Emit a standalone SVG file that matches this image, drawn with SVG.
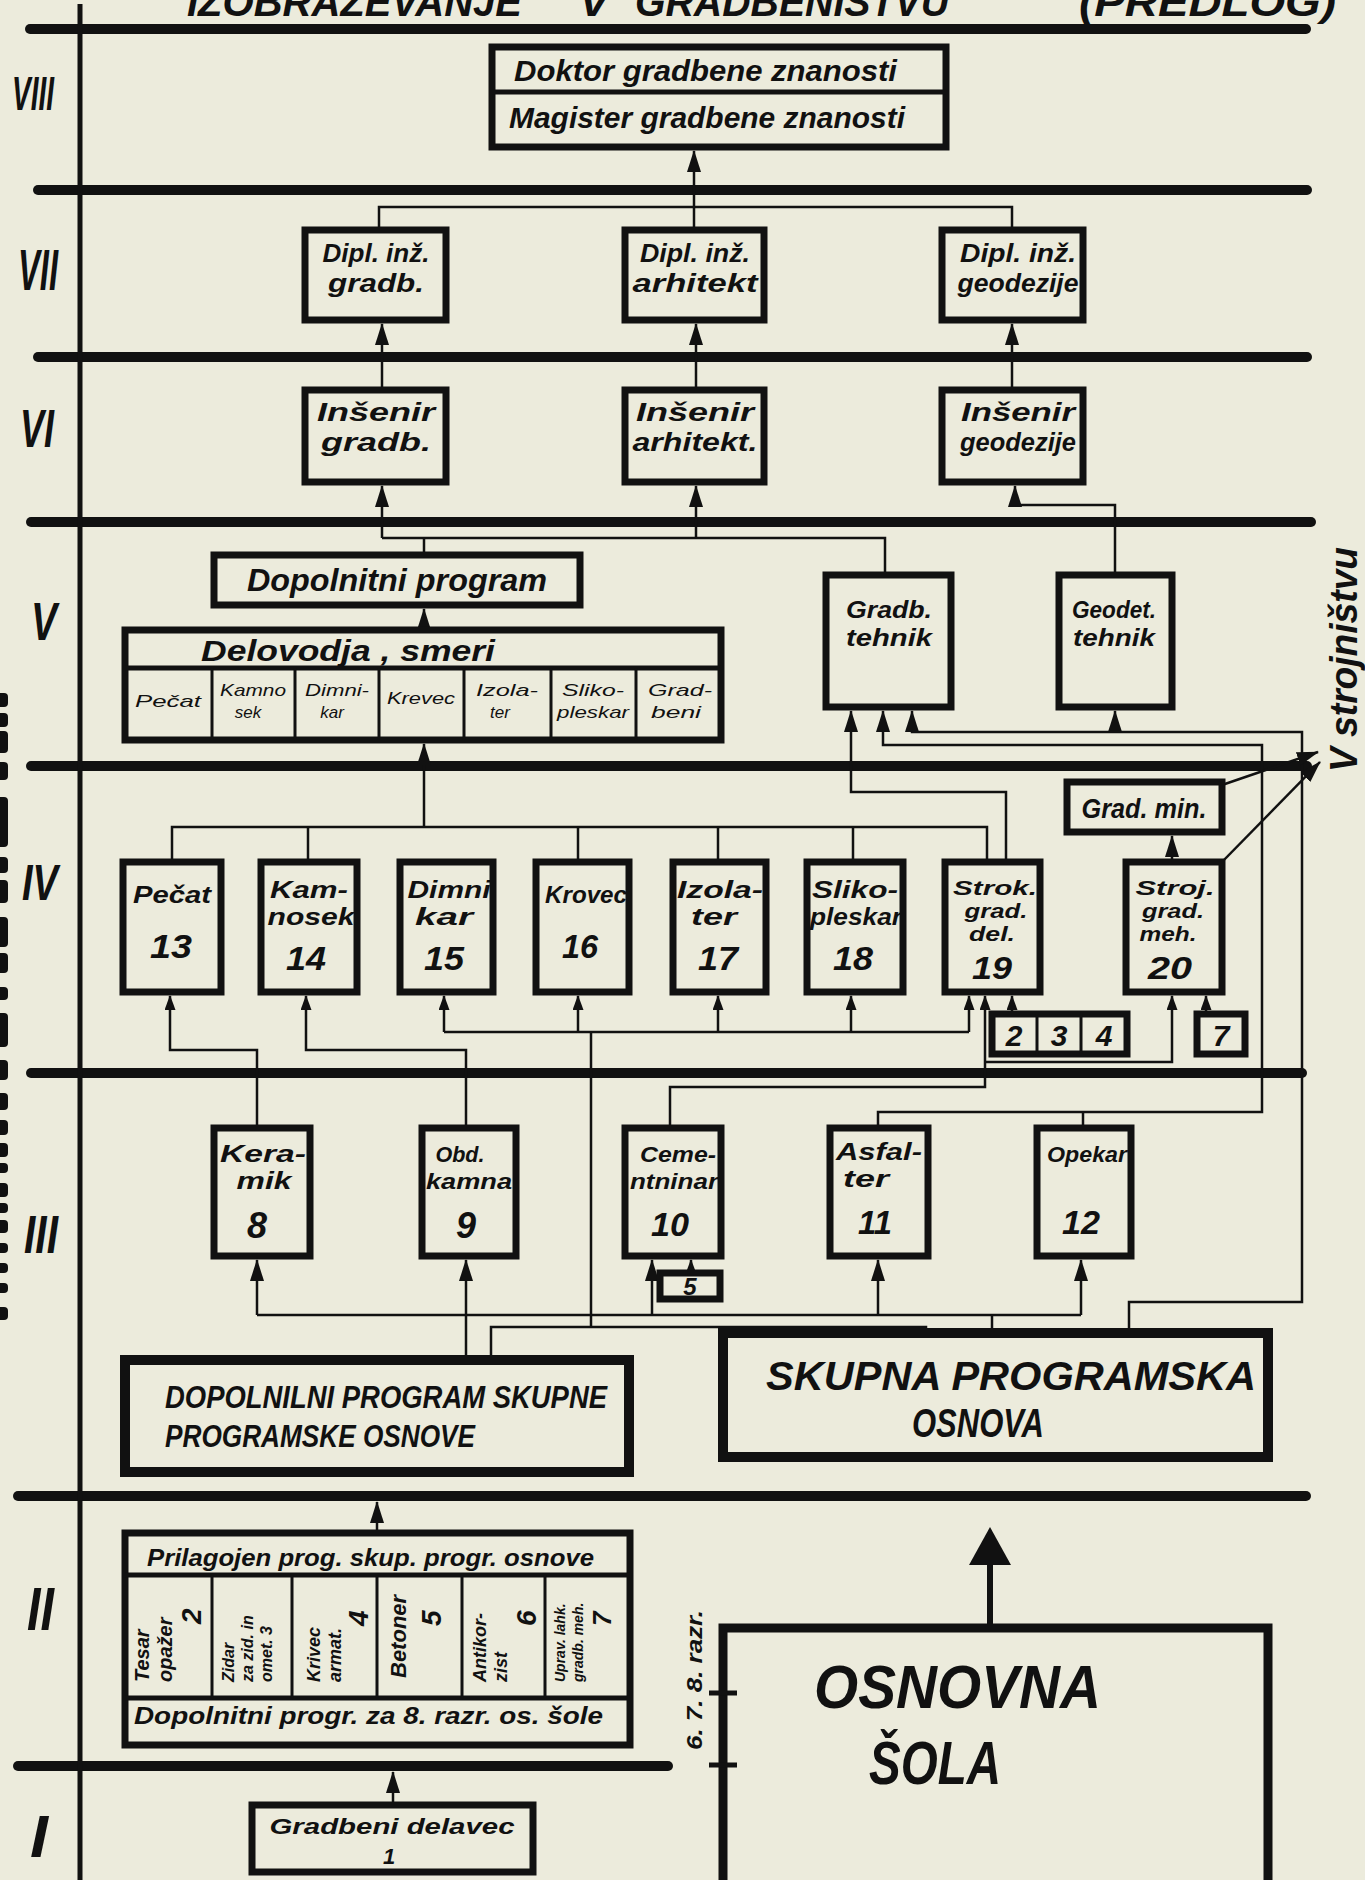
<svg xmlns="http://www.w3.org/2000/svg" width="1365" height="1880" viewBox="0 0 1365 1880">
<defs>
<style>
.bg{fill:#ECEBDC}
.lvl{stroke:#111;stroke-width:10;stroke-linecap:round;fill:none}
.axis{stroke:#111;stroke-width:5;fill:none}
.box{fill:none;stroke:#111;stroke-width:7}
.bx2{fill:none;stroke:#111;stroke-width:10}
.div{stroke:#111;stroke-width:5;fill:none}
.cdiv{stroke:#111;stroke-width:3;fill:none}
.c{fill:none;stroke:#111;stroke-width:2.5}
.ca{fill:none;stroke:#111;stroke-width:2.5;marker-end:url(#ah)}
.cs{fill:none;stroke:#111;stroke-width:2.5;marker-end:url(#as)}
.t{font-family:"Liberation Sans Narrow","Liberation Sans",Arial,sans-serif;font-weight:bold;font-style:italic;fill:#111}
.h{font-family:"Liberation Sans Narrow","Liberation Sans",Arial,sans-serif;font-style:italic;fill:#111}
.m{text-anchor:middle}
.edge{fill:#111}
</style>
<marker id="ah" viewBox="0 0 22 14" refX="21" refY="7" markerWidth="22" markerHeight="14" markerUnits="userSpaceOnUse" orient="auto"><path d="M0,0 L22,7 L0,14 Z" fill="#111"/></marker>
<marker id="as" viewBox="0 0 15 11" refX="14" refY="5.5" markerWidth="15" markerHeight="11" markerUnits="userSpaceOnUse" orient="auto"><path d="M0,0 L15,5.5 L0,11 Z" fill="#111"/></marker>
</defs>
<rect class="bg" x="0" y="0" width="1365" height="1880"/>

<g id="title" class="t" font-size="40">
<text x="187" y="16" textLength="335" lengthAdjust="spacingAndGlyphs">IZOBRAŽEVANJE</text>
<text x="579" y="16" textLength="30" lengthAdjust="spacingAndGlyphs">V</text>
<text x="635" y="16" textLength="314" lengthAdjust="spacingAndGlyphs">GRADBENIŠTVU</text>
<text x="1079" y="16" textLength="257" lengthAdjust="spacingAndGlyphs">(PREDLOG)</text>
</g>

<g id="level-lines">
<path class="lvl" d="M30,29 H1306"/>
<path class="lvl" d="M38,190 H1307"/>
<path class="lvl" d="M38,357 H1307"/>
<path class="lvl" d="M31,522 H1311"/>
<path class="lvl" d="M31,766 H1307"/>
<path class="lvl" d="M31,1073 H1302"/>
<path class="lvl" d="M18,1496 H1306"/>
<path class="lvl" d="M18,1766 H668"/>
<path class="axis" d="M80,4 V1880"/>
</g>

<g id="numerals" class="t">
<text x="12" y="110" font-size="48" textLength="42" lengthAdjust="spacingAndGlyphs">VIII</text>
<text x="18" y="290" font-size="58" textLength="40" lengthAdjust="spacingAndGlyphs">VII</text>
<text x="20" y="447" font-size="54" textLength="34" lengthAdjust="spacingAndGlyphs">VI</text>
<text x="31" y="640" font-size="54" textLength="26" lengthAdjust="spacingAndGlyphs">V</text>
<text x="22" y="900" font-size="50" textLength="36" lengthAdjust="spacingAndGlyphs">IV</text>
<text x="24" y="1253" font-size="54" textLength="34" lengthAdjust="spacingAndGlyphs">III</text>
<text x="27" y="1630" font-size="62" textLength="27" lengthAdjust="spacingAndGlyphs">II</text>
<text x="30" y="1857" font-size="60" textLength="18" lengthAdjust="spacingAndGlyphs">I</text>
</g>

<g id="page-edge" class="edge">
<rect x="-4" y="693" width="12" height="14" rx="4"/>
<rect x="-4" y="713" width="12" height="14" rx="4"/>
<rect x="-4" y="731" width="12" height="22" rx="4"/>
<rect x="-4" y="762" width="12" height="18" rx="4"/>
<rect x="-4" y="797" width="12" height="50" rx="4"/>
<rect x="-4" y="857" width="12" height="16" rx="4"/>
<rect x="-4" y="880" width="12" height="23" rx="4"/>
<rect x="-4" y="917" width="12" height="30" rx="4"/>
<rect x="-4" y="953" width="12" height="20" rx="4"/>
<rect x="-4" y="987" width="12" height="13" rx="4"/>
<rect x="-4" y="1013" width="12" height="34" rx="4"/>
<rect x="-4" y="1060" width="12" height="20" rx="4"/>
<rect x="-4" y="1093" width="12" height="17" rx="4"/>
<rect x="-4" y="1120" width="12" height="15" rx="4"/>
<rect x="-4" y="1143" width="12" height="14" rx="4"/>
<rect x="-4" y="1163" width="12" height="10" rx="4"/>
<rect x="-4" y="1183" width="12" height="14" rx="4"/>
<rect x="-4" y="1203" width="12" height="10" rx="4"/>
<rect x="-4" y="1220" width="12" height="13" rx="4"/>
<rect x="-4" y="1243" width="12" height="10" rx="4"/>
<rect x="-4" y="1263" width="12" height="10" rx="4"/>
<rect x="-4" y="1283" width="12" height="10" rx="4"/>
<rect x="-4" y="1307" width="12" height="13" rx="4"/>
</g>

<g id="connectors">
<path class="c" d="M379,230 V207 H1012 V228"/>
<path class="ca" d="M694,230 V151"/>
<path class="ca" d="M382,390 V324"/>
<path class="ca" d="M696,390 V324"/>
<path class="ca" d="M1012,390 V324"/>
<path class="ca" d="M382,538 V486"/>
<path class="ca" d="M696,538 V486"/>
<path class="c" d="M382,538 H885 V572"/>
<path class="c" d="M424,552 V538"/>
<path class="ca" d="M1115,572 V505 H1015 V486"/>
<path class="ca" d="M424,627 V609"/>
<path class="ca" d="M424,827 V744"/>
<path class="ca" d="M1006,859 V792 H851 V711"/>
<path class="ca" d="M878,1125 V1112 H1262 V745 H883 V711"/>
<path class="c" d="M1083,1125 V1112"/>
<path class="ca" d="M1129,1330 V1302 H1302 V732 H912 V711"/>
<path class="ca" d="M1115,732 V711"/>
<path class="ca" d="M1172,859 V836"/>
<path class="ca" d="M1222,785 L1318,752"/>
<path class="ca" d="M1222,862 L1320,762"/>
<path class="c" d="M172,859 V827 H987 V859"/>
<path class="c" d="M308,827 V859"/>
<path class="c" d="M578,827 V859"/>
<path class="c" d="M718,827 V859"/>
<path class="c" d="M853,827 V859"/>
<path class="cs" d="M257,1125 V1050 H170 V996"/>
<path class="cs" d="M466,1125 V1050 H306 V996"/>
<path class="c" d="M444,1032 H969"/>
<path class="cs" d="M444,1032 V996"/>
<path class="cs" d="M578,1032 V996"/>
<path class="cs" d="M718,1032 V996"/>
<path class="cs" d="M851,1032 V996"/>
<path class="cs" d="M969,1032 V996"/>
<path class="c" d="M591,1032 V1327"/>
<path class="cs" d="M670,1125 V1087 H985 V996"/>
<path class="cs" d="M985,1062 H1172 V996"/>
<path class="cs" d="M1012,1012 V996"/>
<path class="cs" d="M1206,1012 V996"/>
<path class="c" d="M257,1315 H1081"/>
<path class="ca" d="M257,1315 V1260"/>
<path class="ca" d="M466,1315 V1260"/>
<path class="ca" d="M652,1315 V1260"/>
<path class="ca" d="M878,1315 V1260"/>
<path class="ca" d="M1081,1315 V1260"/>
<path class="cs" d="M691,1273 V1260"/>
<path class="c" d="M466,1356 V1315"/>
<path class="c" d="M491,1356 V1327 H926 V1329"/>
<path class="c" d="M992,1329 V1315"/>
<path class="ca" d="M377,1530 V1502"/>
<path class="ca" d="M393,1802 V1772"/>
</g>

<g id="n-doktor-magister">
<rect class="box" x="492" y="47" width="454" height="100"/>
<path class="div" d="M492,92 H946"/>
<text class="t" x="514" y="81" font-size="30" textLength="383" lengthAdjust="spacingAndGlyphs">Doktor gradbene znanosti</text>
<text class="t" x="509" y="128" font-size="30" textLength="396" lengthAdjust="spacingAndGlyphs">Magister gradbene znanosti</text>
</g>

<g id="n-dipl-gradb">
<rect class="box" x="305" y="230" width="141" height="90"/>
<text class="t m" x="376" y="262" font-size="25" textLength="107" lengthAdjust="spacingAndGlyphs">Dipl. inž.</text>
<text class="t m" x="376" y="292" font-size="25" textLength="96" lengthAdjust="spacingAndGlyphs">gradb.</text>
</g>
<g id="n-dipl-arh">
<rect class="box" x="625" y="230" width="139" height="90"/>
<text class="t m" x="695" y="262" font-size="25" textLength="110" lengthAdjust="spacingAndGlyphs">Dipl. inž.</text>
<text class="t m" x="695" y="292" font-size="25" textLength="125" lengthAdjust="spacingAndGlyphs">arhitekt</text>
</g>
<g id="n-dipl-geod">
<rect class="box" x="942" y="230" width="141" height="90"/>
<text class="t m" x="1018" y="262" font-size="25" textLength="116" lengthAdjust="spacingAndGlyphs">Dipl. inž.</text>
<text class="t m" x="1018" y="292" font-size="25" textLength="121" lengthAdjust="spacingAndGlyphs">geodezije</text>
</g>

<g id="n-inz-gradb">
<rect class="box" x="305" y="390" width="141" height="92"/>
<text class="t m" x="376" y="421" font-size="25" textLength="118" lengthAdjust="spacingAndGlyphs">Inšenir</text>
<text class="t m" x="376" y="451" font-size="25" textLength="110" lengthAdjust="spacingAndGlyphs">gradb.</text>
</g>
<g id="n-inz-arh">
<rect class="box" x="625" y="390" width="139" height="92"/>
<text class="t m" x="695" y="421" font-size="25" textLength="118" lengthAdjust="spacingAndGlyphs">Inšenir</text>
<text class="t m" x="695" y="451" font-size="25" textLength="125" lengthAdjust="spacingAndGlyphs">arhitekt.</text>
</g>
<g id="n-inz-geod">
<rect class="box" x="942" y="390" width="141" height="92"/>
<text class="t m" x="1018" y="421" font-size="25" textLength="114" lengthAdjust="spacingAndGlyphs">Inšenir</text>
<text class="t m" x="1018" y="451" font-size="25" textLength="116" lengthAdjust="spacingAndGlyphs">geodezije</text>
</g>

<g id="n-dopolnitni-program">
<rect class="box" x="214" y="555" width="366" height="50"/>
<text class="t m" x="397" y="591" font-size="32" textLength="300" lengthAdjust="spacingAndGlyphs">Dopolnitni program</text>
</g>

<g id="n-delovodja">
<rect class="box" x="125" y="630" width="596" height="110"/>
<path class="div" d="M125,668 H721"/>
<path class="cdiv" d="M212,668 V740 M295,668 V740 M379,668 V740 M464,668 V740 M551,668 V740 M636,668 V740"/>
<text class="t" x="201" y="661" font-size="30" textLength="294" lengthAdjust="spacingAndGlyphs">Delovodja , smeri</text>
<g class="h m" font-size="17">
<text x="168" y="707" textLength="66" lengthAdjust="spacingAndGlyphs">Pečat</text>
<text x="253" y="696" textLength="66" lengthAdjust="spacingAndGlyphs">Kamno</text>
<text x="248" y="718">sek</text>
<text x="337" y="696" textLength="64" lengthAdjust="spacingAndGlyphs">Dimni-</text>
<text x="332" y="718">kar</text>
<text x="421" y="704" textLength="68" lengthAdjust="spacingAndGlyphs">Krevec</text>
<text x="507" y="696" textLength="62" lengthAdjust="spacingAndGlyphs">Izola-</text>
<text x="500" y="718">ter</text>
<text x="593" y="696" textLength="62" lengthAdjust="spacingAndGlyphs">Sliko-</text>
<text x="593" y="718" textLength="72" lengthAdjust="spacingAndGlyphs">pleskar</text>
<text x="680" y="696" textLength="64" lengthAdjust="spacingAndGlyphs">Grad-</text>
<text x="676" y="718" textLength="50" lengthAdjust="spacingAndGlyphs">beni</text>
</g>
</g>

<g id="n-gradb-tehnik">
<rect class="box" x="826" y="575" width="125" height="132"/>
<text class="t m" x="889" y="618" font-size="24" textLength="86" lengthAdjust="spacingAndGlyphs">Gradb.</text>
<text class="t m" x="889" y="646" font-size="24" textLength="86" lengthAdjust="spacingAndGlyphs">tehnik</text>
</g>
<g id="n-geodet-tehnik">
<rect class="box" x="1059" y="575" width="113" height="132"/>
<text class="t m" x="1114" y="618" font-size="24" textLength="84" lengthAdjust="spacingAndGlyphs">Geodet.</text>
<text class="t m" x="1114" y="646" font-size="24" textLength="82" lengthAdjust="spacingAndGlyphs">tehnik</text>
</g>

<g id="n-grad-min">
<rect class="box" x="1067" y="782" width="155" height="50"/>
<text class="t m" x="1144" y="818" font-size="28" textLength="125" lengthAdjust="spacingAndGlyphs">Grad. min.</text>
</g>

<g id="label-v-strojnistvu">
<text class="t" transform="translate(1357,772) rotate(-90)" x="0" y="0" font-size="38" textLength="225" lengthAdjust="spacingAndGlyphs">V strojništvu</text>
</g>

<g id="n-pecat-13">
<rect class="box" x="123" y="862" width="98" height="130"/>
<text class="t m" x="172" y="903" font-size="24" textLength="78" lengthAdjust="spacingAndGlyphs">Pečat</text>
<text class="t m" x="171" y="958" font-size="34" textLength="42" lengthAdjust="spacingAndGlyphs">13</text>
</g>
<g id="n-kamnosek-14">
<rect class="box" x="261" y="862" width="96" height="130"/>
<text class="t m" x="309" y="898" font-size="24" textLength="78" lengthAdjust="spacingAndGlyphs">Kam-</text>
<text class="t m" x="311" y="925" font-size="24" textLength="87" lengthAdjust="spacingAndGlyphs">nosek</text>
<text class="t m" x="306" y="970" font-size="34" textLength="40" lengthAdjust="spacingAndGlyphs">14</text>
</g>
<g id="n-dimnikar-15">
<rect class="box" x="400" y="862" width="93" height="130"/>
<text class="t m" x="449" y="898" font-size="24" textLength="83" lengthAdjust="spacingAndGlyphs">Dimni</text>
<text class="t m" x="444" y="925" font-size="24" textLength="58" lengthAdjust="spacingAndGlyphs">kar</text>
<text class="t m" x="444" y="970" font-size="34" textLength="40" lengthAdjust="spacingAndGlyphs">15</text>
</g>
<g id="n-krovec-16">
<rect class="box" x="536" y="862" width="93" height="130"/>
<text class="t m" x="586" y="903" font-size="24" textLength="82" lengthAdjust="spacingAndGlyphs">Krovec</text>
<text class="t m" x="580" y="958" font-size="34" textLength="36" lengthAdjust="spacingAndGlyphs">16</text>
</g>
<g id="n-izolater-17">
<rect class="box" x="673" y="862" width="93" height="130"/>
<text class="t m" x="720" y="898" font-size="24" textLength="86" lengthAdjust="spacingAndGlyphs">Izola-</text>
<text class="t m" x="714" y="925" font-size="24" textLength="46" lengthAdjust="spacingAndGlyphs">ter</text>
<text class="t m" x="718" y="970" font-size="34" textLength="40" lengthAdjust="spacingAndGlyphs">17</text>
</g>
<g id="n-slikopleskar-18">
<rect class="box" x="807" y="862" width="96" height="130"/>
<text class="t m" x="855" y="898" font-size="24" textLength="86" lengthAdjust="spacingAndGlyphs">Sliko-</text>
<text class="t m" x="856" y="925" font-size="24" textLength="92" lengthAdjust="spacingAndGlyphs">pleskar</text>
<text class="t m" x="853" y="970" font-size="34" textLength="40" lengthAdjust="spacingAndGlyphs">18</text>
</g>
<g id="n-strok-19">
<rect class="box" x="945" y="862" width="95" height="130"/>
<text class="t m" x="995" y="895" font-size="20" textLength="84" lengthAdjust="spacingAndGlyphs">Strok.</text>
<text class="t m" x="996" y="918" font-size="20" textLength="63" lengthAdjust="spacingAndGlyphs">grad.</text>
<text class="t m" x="992" y="941" font-size="20" textLength="46" lengthAdjust="spacingAndGlyphs">del.</text>
<text class="t m" x="992" y="979" font-size="32" textLength="40" lengthAdjust="spacingAndGlyphs">19</text>
</g>
<g id="n-stroj-20">
<rect class="box" x="1126" y="862" width="96" height="130"/>
<text class="t m" x="1175" y="895" font-size="20" textLength="79" lengthAdjust="spacingAndGlyphs">Stroj.</text>
<text class="t m" x="1173" y="918" font-size="20" textLength="62" lengthAdjust="spacingAndGlyphs">grad.</text>
<text class="t m" x="1168" y="941" font-size="20" textLength="57" lengthAdjust="spacingAndGlyphs">meh.</text>
<text class="t m" x="1170" y="979" font-size="32" textLength="44" lengthAdjust="spacingAndGlyphs">20</text>
</g>

<g id="n-234">
<rect class="box" x="992" y="1014" width="135" height="40"/>
<path class="cdiv" d="M1037,1014 V1054 M1081,1014 V1054"/>
<text class="t m" x="1014" y="1046" font-size="30">2</text>
<text class="t m" x="1059" y="1046" font-size="30">3</text>
<text class="t m" x="1104" y="1046" font-size="30">4</text>
</g>
<g id="n-7">
<rect class="box" x="1197" y="1014" width="48" height="40"/>
<text class="t m" x="1221" y="1046" font-size="30">7</text>
</g>

<g id="n-keramik-8">
<rect class="box" x="214" y="1128" width="96" height="128"/>
<text class="t m" x="263" y="1162" font-size="24" textLength="86" lengthAdjust="spacingAndGlyphs">Kera-</text>
<text class="t m" x="264" y="1189" font-size="24" textLength="55" lengthAdjust="spacingAndGlyphs">mik</text>
<text class="t m" x="257" y="1238" font-size="36">8</text>
</g>
<g id="n-obd-kamna-9">
<rect class="box" x="422" y="1128" width="94" height="128"/>
<text class="t m" x="460" y="1162" font-size="22" textLength="49" lengthAdjust="spacingAndGlyphs">Obd.</text>
<text class="t m" x="469" y="1189" font-size="22" textLength="86" lengthAdjust="spacingAndGlyphs">kamna</text>
<text class="t m" x="466" y="1238" font-size="36">9</text>
</g>
<g id="n-cementninar-10">
<rect class="box" x="625" y="1128" width="96" height="128"/>
<text class="t m" x="678" y="1162" font-size="22" textLength="76" lengthAdjust="spacingAndGlyphs">Ceme-</text>
<text class="t m" x="674" y="1189" font-size="22" textLength="88" lengthAdjust="spacingAndGlyphs">ntninar</text>
<text class="t m" x="670" y="1236" font-size="34" textLength="38" lengthAdjust="spacingAndGlyphs">10</text>
</g>
<g id="n-5">
<rect class="box" x="660" y="1273" width="60" height="26"/>
<text class="t m" x="690" y="1295" font-size="24">5</text>
</g>
<g id="n-asfalter-11">
<rect class="box" x="830" y="1128" width="98" height="128"/>
<text class="t m" x="879" y="1160" font-size="24" textLength="86" lengthAdjust="spacingAndGlyphs">Asfal-</text>
<text class="t m" x="866" y="1187" font-size="24" textLength="46" lengthAdjust="spacingAndGlyphs">ter</text>
<text class="t m" x="875" y="1234" font-size="34" textLength="34" lengthAdjust="spacingAndGlyphs">11</text>
</g>
<g id="n-opekar-12">
<rect class="box" x="1037" y="1128" width="94" height="128"/>
<text class="t m" x="1087" y="1162" font-size="22" textLength="80" lengthAdjust="spacingAndGlyphs">Opekar</text>
<text class="t m" x="1081" y="1234" font-size="34" textLength="38" lengthAdjust="spacingAndGlyphs">12</text>
</g>

<g id="n-dopolnilni-skupne">
<rect class="bx2" x="125" y="1360" width="504" height="112"/>
<text class="t" x="165" y="1408" font-size="31" textLength="442" lengthAdjust="spacingAndGlyphs">DOPOLNILNI  PROGRAM SKUPNE</text>
<text class="t" x="165" y="1447" font-size="31" textLength="310" lengthAdjust="spacingAndGlyphs">PROGRAMSKE  OSNOVE</text>
</g>

<g id="n-skupna-osnova">
<rect class="bx2" x="723" y="1333" width="545" height="124"/>
<text class="t" x="766" y="1390" font-size="40" textLength="490" lengthAdjust="spacingAndGlyphs">SKUPNA  PROGRAMSKA</text>
<text class="t" x="912" y="1437" font-size="40" textLength="132" lengthAdjust="spacingAndGlyphs">OSNOVA</text>
</g>

<g id="n-prilagojen">
<rect class="box" x="125" y="1533" width="505" height="212"/>
<path class="div" d="M125,1575 H630 M125,1698 H630"/>
<path class="cdiv" d="M212,1575 V1698 M292,1575 V1698 M377,1575 V1698 M462,1575 V1698 M545,1575 V1698"/>
<text class="t" x="147" y="1566" font-size="24" textLength="447" lengthAdjust="spacingAndGlyphs">Prilagojen prog. skup. progr. osnove</text>
<text class="t" x="134" y="1724" font-size="24" textLength="469" lengthAdjust="spacingAndGlyphs">Dopolnitni progr. za 8. razr. os. šole</text>
<g class="t" transform="translate(125,1686) rotate(-90)">
<text x="4" y="24" font-size="20">Tesar</text>
<text x="4" y="47" font-size="20">opažer</text>
<text x="62" y="76" font-size="28">2</text>
</g>
<g class="t" transform="translate(212,1686) rotate(-90)">
<text x="4" y="22" font-size="16">Zidar</text>
<text x="4" y="41" font-size="16">za zid. in</text>
<text x="4" y="60" font-size="16">omet. 3</text>
</g>
<g class="t" transform="translate(292,1686) rotate(-90)">
<text x="4" y="28" font-size="18">Krivec</text>
<text x="4" y="49" font-size="18">armat.</text>
<text x="60" y="76" font-size="28">4</text>
</g>
<g class="t" transform="translate(377,1686) rotate(-90)">
<text x="8" y="29" font-size="22">Betoner</text>
<text x="60" y="64" font-size="28">5</text>
</g>
<g class="t" transform="translate(462,1686) rotate(-90)">
<text x="4" y="24" font-size="18">Antikor-</text>
<text x="4" y="45" font-size="18">zist</text>
<text x="60" y="74" font-size="28">6</text>
</g>
<g class="t" transform="translate(545,1686) rotate(-90)">
<text x="4" y="20" font-size="14">Uprav. lahk.</text>
<text x="4" y="38" font-size="14">gradb. meh.</text>
<text x="60" y="66" font-size="26">7</text>
</g>
</g>

<g id="n-gradbeni-delavec">
<rect class="box" x="252" y="1805" width="281" height="67"/>
<text class="t m" x="392" y="1834" font-size="22" textLength="245" lengthAdjust="spacingAndGlyphs">Gradbeni delavec</text>
<text class="t m" x="389" y="1864" font-size="22">1</text>
</g>

<g id="n-osnovna-sola">
<path fill="none" stroke="#111" stroke-width="9" d="M723,1880 V1628 H1268 V1880"/>
<path class="div" d="M709,1693 H737 M709,1765 H737"/>
<path fill="none" stroke="#111" stroke-width="6" d="M990,1628 V1560"/>
<polygon fill="#111" points="969,1565 1011,1565 990,1527"/>
<text class="t" x="814" y="1708" font-size="62" textLength="287" lengthAdjust="spacingAndGlyphs">OSNOVNA</text>
<text class="t" x="869" y="1784" font-size="62" textLength="132" lengthAdjust="spacingAndGlyphs">ŠOLA</text>
<text class="t" transform="translate(702,1750) rotate(-90)" x="0" y="0" font-size="22" textLength="140" lengthAdjust="spacingAndGlyphs">6. 7. 8. razr.</text>
</g>
</svg>
